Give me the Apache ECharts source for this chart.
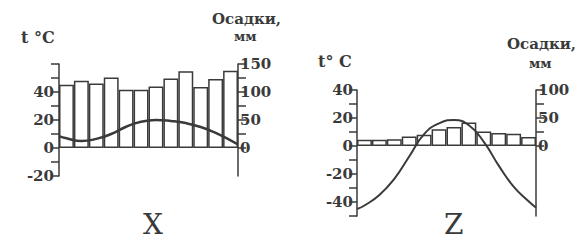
<!DOCTYPE html>
<html>
<head>
<meta charset="utf-8">
<script src="https://cdn.jsdelivr.net/npm/echarts@6/dist/echarts.min.js"></script>
<style>
  html, body { margin: 0; padding: 0; background: #fff; }
  #chart { width: 578px; height: 241px; }
</style>
</head>
<body>
<div id="chart"></div>
<script>
  // месяцы
  var months = ['1', '2', '3', '4', '5', '6', '7', '8', '9', '10', '11', '12']
  // положение точек кривой температуры (в месяцах, от левой оси до правой)
  var tempPos = [0, 0.5, 1.5, 2.5, 3.5, 4.5, 5.5, 6.5, 7.5, 8.5, 9.5, 10.5, 11.5, 12]

  // климатограмма X
  var precipX = [113, 120, 115, 126, 104, 104, 110, 124, 137, 109, 123, 138]
  var tempX = [8.5, 7, 5, 6.5, 10, 15.2, 18.8, 20, 19.3, 17.8, 15, 10.8, 5.5, 2.5]

  // климатограмма Z
  var precipZ = [11, 11, 12, 17, 20, 30, 34, 42, 26, 23, 22, 16]
  var tempZ = [-45, -42.5, -35, -23.5, -7.5, 8.5, 16.2, 18.5, 14.8, 3, -14, -29, -39.5, -44]

  // подписи осей
  var tempLabelsX = [-20, 0, 20, 40]
  var precipTicksX = [0, 25, 50, 75, 100, 125, 150]
  var precipLabelsX = [0, 50, 100, 150]
  var tempLabelsZ = [-40, -20, 0, 20, 40]
  var precipTicksZ = [0, 25, 50, 75, 100]
  var precipLabelsZ = [0, 50, 100]

  var ink = '#3a3a3a'
  var font = 'DejaVu Serif'

  function pairs (xs, ys) {
    return xs.map(function (x, i) { return [x, ys[i]] })
  }

  function tempAxis (grid, min, max, labels, margin) {
    return {
      type: 'value',
      gridIndex: grid,
      position: 'left',
      min: min,
      max: max,
      interval: 10,
      splitLine: { show: false },
      axisLine: { show: true, lineStyle: { color: ink, width: 1.5 } },
      axisTick: { show: true, length: 8, lineStyle: { color: ink, width: 1.5 } },
      axisLabel: { customValues: labels, margin: margin, color: ink, fontFamily: font, fontSize: 15, fontWeight: 'bold' }
    }
  }

  function precipAxis (grid, min, max, ticks, labels) {
    return {
      type: 'value',
      gridIndex: grid,
      position: 'right',
      min: min,
      max: max,
      interval: 25,
      splitLine: { show: false },
      axisLine: { show: true, lineStyle: { color: ink, width: 1.5 } },
      axisTick: { show: true, length: 8, customValues: ticks, lineStyle: { color: ink, width: 1.5 } },
      axisLabel: { customValues: labels, margin: 2, color: ink, fontFamily: font, fontSize: 15, fontWeight: 'bold' }
    }
  }

  function text (x, y, str, size, weight) {
    return {
      type: 'text',
      left: x,
      top: y,
      style: { text: str, fill: ink, font: (weight || 'normal') + ' ' + size + 'px "' + font + '"' }
    }
  }

  var option = {
    animation: false,
    backgroundColor: '#fff',
    grid: [
      { left: 59, top: 64, width: 179, height: 112 },
      { left: 357, top: 90, width: 179, height: 126 }
    ],
    xAxis: [
      { type: 'category', gridIndex: 0, data: months, show: false },
      { type: 'value', gridIndex: 0, min: 0, max: 12, show: false },
      { type: 'category', gridIndex: 1, data: months, show: false },
      { type: 'value', gridIndex: 1, min: 0, max: 12, show: false }
    ],
    yAxis: [
      tempAxis(0, -20, 60, tempLabelsX, 5),
      precipAxis(0, -50, 150, precipTicksX, precipLabelsX),
      tempAxis(1, -50, 40, tempLabelsZ, 4),
      precipAxis(1, -125, 100, precipTicksZ, precipLabelsZ)
    ],
    series: [
      {
        type: 'bar',
        xAxisIndex: 0,
        yAxisIndex: 1,
        data: precipX,
        barCategoryGap: '0%',
        itemStyle: { color: '#fff', borderColor: ink, borderWidth: 1.5 }
      },
      {
        type: 'line',
        xAxisIndex: 1,
        yAxisIndex: 0,
        data: pairs(tempPos, tempX),
        smooth: true,
        symbol: 'none',
        z: 5,
        lineStyle: { color: ink, width: 2.5 }
      },
      {
        type: 'bar',
        xAxisIndex: 2,
        yAxisIndex: 3,
        data: precipZ,
        barCategoryGap: '0%',
        itemStyle: { color: '#fff', borderColor: ink, borderWidth: 1.5 }
      },
      {
        type: 'line',
        xAxisIndex: 3,
        yAxisIndex: 2,
        data: pairs(tempPos, tempZ),
        smooth: true,
        symbol: 'none',
        z: 5,
        lineStyle: { color: ink, width: 2 }
      }
    ],
    graphic: [
      text(21, 29, 't °C', 16, 'bold'),
      text(212, 11, 'Осадки,', 15, 'bold'),
      text(234, 30, 'мм', 13, 'bold'),
      text(318, 53, 't° C', 16, 'bold'),
      text(507, 36, 'Осадки,', 15, 'bold'),
      text(529, 57, 'мм', 13, 'bold'),
      text(143, 210, 'X', 28),
      text(444, 210, 'Z', 28)
    ]
  }

  var chart = echarts.init(document.getElementById('chart'), null, { renderer: 'svg' })
  chart.setOption(option)
</script>
</body>
</html>
